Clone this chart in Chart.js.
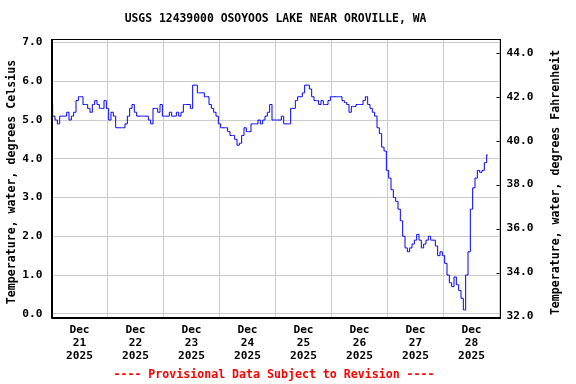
<!DOCTYPE html>
<html><head><meta charset="utf-8">
<script src="https://cdn.jsdelivr.net/npm/chart.js@4"></script>
<style>html,body{margin:0;padding:0;background:#fff}#c{display:block}</style>
</head><body>
<canvas id="c" width="576" height="384"></canvas>
<script>
const titleText = 'USGS 12439000 OSOYOOS LAKE NEAR OROVILLE, WA';
const leftTitle = 'Temperature, water, degrees Celsius';
const rightTitle = 'Temperature, water, degrees Fahrenheit';
const footerText = '---- Provisional Data Subject to Revision ----';
const dayLabels = [
  ['Dec','21','2025'],['Dec','22','2025'],['Dec','23','2025'],['Dec','24','2025'],
  ['Dec','25','2025'],['Dec','26','2025'],['Dec','27','2025'],['Dec','28','2025']
];
const celsiusTicks = [0,1,2,3,4,5,6,7];
const fahrenheitTicks = [32,34,36,38,40,42,44];
// hourly water temperature (deg C), starting Dec 21 2025 00:00
const tempC = [
  5.4,5.1,5.0,4.9,5.1,5.1,5.1,5.2,5.0,5.1,5.2,5.5,5.6,5.6,5.4,5.4,5.3,5.2,5.4,5.5,5.4,5.3,5.3,5.5,
  5.3,5.0,5.2,5.1,4.8,4.8,4.8,4.8,4.9,5.1,5.3,5.4,5.2,5.1,5.1,5.1,5.1,5.1,5.0,4.9,5.3,5.3,5.2,5.4,
  5.1,5.1,5.1,5.2,5.1,5.1,5.2,5.1,5.2,5.4,5.4,5.4,5.3,5.9,5.9,5.7,5.7,5.7,5.6,5.6,5.4,5.3,5.2,5.1,
  4.9,4.8,4.8,4.8,4.7,4.6,4.6,4.5,4.35,4.4,4.6,4.8,4.7,4.7,4.9,4.9,4.9,5.0,4.9,5.0,5.1,5.2,5.4,5.0,
  5.0,5.0,5.0,5.1,4.9,4.9,4.9,5.3,5.3,5.5,5.6,5.6,5.7,5.9,5.9,5.8,5.6,5.5,5.5,5.4,5.5,5.4,5.4,5.5,
  5.6,5.6,5.6,5.6,5.6,5.5,5.45,5.4,5.2,5.35,5.35,5.4,5.4,5.4,5.5,5.6,5.4,5.3,5.2,5.1,4.8,4.65,4.3,4.2,
  3.7,3.5,3.2,3.0,2.9,2.7,2.4,2.0,1.7,1.6,1.7,1.8,1.9,2.05,1.9,1.7,1.8,1.9,2.0,1.9,1.9,1.75,1.5,1.6,
  1.5,1.3,1.0,0.8,0.7,0.95,0.75,0.6,0.4,0.1,1.0,1.6,2.7,3.25,3.5,3.7,3.65,3.7,3.9,4.1
];

const points = tempC.map((v, i) => ({x: i, y: v}));
const FONT = '"DejaVu Sans Mono", "Liberation Mono", monospace';

const decor = {
  id: 'decor',
  afterDraw(chart) {
    const ctx = chart.ctx, a = chart.chartArea;
    ctx.save();
    ctx.strokeStyle = '#000';
    ctx.lineWidth = 1;
    ctx.strokeRect(Math.round(a.left) + 0.5, Math.round(a.top) + 0.5,
                   Math.round(a.right - a.left), Math.round(a.bottom - a.top));
    ctx.beginPath();
    ctx.moveTo(Math.round(a.left) - 0.5, Math.round(a.top));
    ctx.lineTo(Math.round(a.left) - 0.5, Math.round(a.bottom) + 1.5);
    ctx.lineTo(Math.round(a.right) + 1, Math.round(a.bottom) + 1.5);
    ctx.stroke();
    // inward ticks on right axis
    const yr = chart.scales.yF;
    fahrenheitTicks.forEach(t => {
      const y = Math.round(yr.getPixelForValue(t)) + 0.5;
      ctx.beginPath(); ctx.moveTo(a.right - 3, y); ctx.lineTo(a.right, y); ctx.stroke();
    });
    ctx.fillStyle = '#000';
    ctx.textAlign = 'center'; ctx.textBaseline = 'middle';
    ctx.font = 'bold 11.4px ' + FONT;
    ctx.fillText(titleText, (a.left + a.right) / 2, 19);
    ctx.font = 'bold 11.6px ' + FONT;
    ctx.save(); ctx.translate(11.5, 182); ctx.rotate(-Math.PI / 2);
    ctx.fillText(leftTitle, 0, 0); ctx.restore();
    ctx.save(); ctx.translate(556, 182.5); ctx.rotate(-Math.PI / 2);
    ctx.fillText(rightTitle, 0, 0); ctx.restore();
    ctx.fillStyle = '#ff0000';
    ctx.fillText(footerText, 274, 375);
    ctx.restore();
  }
};

new Chart(document.getElementById('c'), {
  type: 'line',
  data: { datasets: [{
    data: points, borderColor: '#0000ff', borderWidth: 1, pointRadius: 0,
    tension: 0, fill: false, stepped: 'middle', yAxisID: 'yC'
  }]},
  options: {
    responsive: false, animation: false, devicePixelRatio: 1,
    layout: { padding: { top: 39, left: 0, right: 0, bottom: 0 } },
    plugins: { legend: { display: false }, title: { display: false }, tooltip: { enabled: false } },
    scales: {
      x: {
        type: 'linear', min: 0, max: 192,
        afterBuildTicks: s => { const t = []; for (let i = 0; i <= 192; i += 12) t.push({value: i}); s.ticks = t; },
        afterFit: s => { s.height = 67.5; },
        grid: { color: c => (c.tick && c.tick.value % 24 === 0) ? '#cccccc' : 'rgba(0,0,0,0)', drawTicks: false, lineWidth: 1 },
        border: { display: false },
        ticks: {
          autoSkip: false, maxRotation: 0, padding: 7, color: '#000',
          font: { family: FONT, size: 11.2, weight: 'bold', lineHeight: 1.17 },
          callback: v => (v % 24 === 12) ? dayLabels[(v - 12) / 24] : ''
        }
      },
      yC: {
        type: 'linear', position: 'left', min: -0.07, max: 7.09,
        afterBuildTicks: s => { s.ticks = celsiusTicks.map(v => ({value: v})); },
        afterFit: s => { s.width = 51.5; },
        grid: { color: '#cccccc', drawTicks: false, lineWidth: 1 },
        border: { display: false },
        ticks: { padding: 9, color: '#000', font: { family: FONT, size: 11.2, weight: 'bold' },
                 callback: v => v.toFixed(1) }
      },
      yF: {
        type: 'linear', position: 'right', min: 32, max: 44.62,
        afterBuildTicks: s => { s.ticks = fahrenheitTicks.map(v => ({value: v})); },
        afterFit: s => { s.width = 76.5; },
        grid: { display: false, drawTicks: false },
        border: { display: false },
        ticks: { padding: 7, color: '#000', font: { family: FONT, size: 11.2, weight: 'bold' },
                 callback: v => v.toFixed(1) }
      }
    }
  },
  plugins: [decor]
});
</script>
</body></html>
